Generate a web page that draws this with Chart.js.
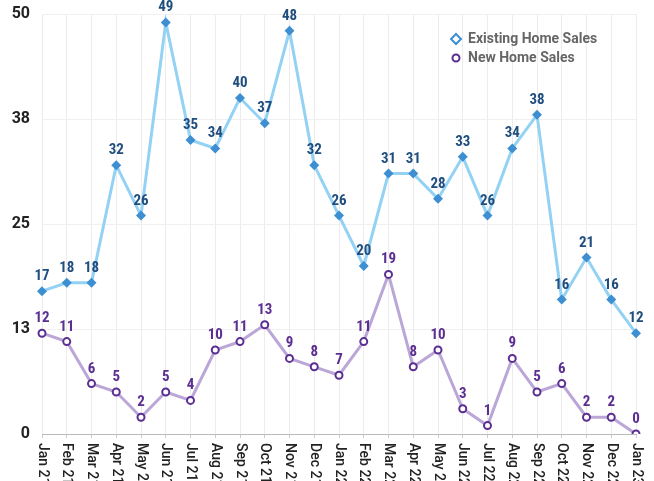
<!DOCTYPE html>
<html>
<head>
<meta charset="utf-8">
<script src="https://cdn.jsdelivr.net/npm/chart.js@4/dist/chart.umd.min.js"></script>
<style>
  html, body { margin: 0; padding: 0; background: #fff; }
  #wrap { width: 654px; height: 481px; }
</style>
</head>
<body>
<div id="wrap"><canvas id="chart" width="654" height="481"></canvas></div>
<script>
const months = ['Jan 21', 'Feb 21', 'Mar 21', 'Apr 21', 'May 21', 'Jun 21', 'Jul 21', 'Aug 21', 'Sep 21', 'Oct 21', 'Nov 21', 'Dec 21',
  'Jan 22', 'Feb 22', 'Mar 22', 'Apr 22', 'May 22', 'Jun 22', 'Jul 22', 'Aug 22', 'Sep 22', 'Oct 22', 'Nov 22', 'Dec 22', 'Jan 23']
const existingSales = [17, 18, 18, 32, 26, 49, 35, 34, 40, 37, 48, 32, 26, 20, 31, 31, 28, 33, 26, 34, 38, 16, 21, 16, 12]
const newSales = [12, 11, 6, 5, 2, 5, 4, 10, 11, 13, 9, 8, 7, 11, 19, 8, 10, 3, 1, 9, 5, 6, 2, 2, 0]
const yTicks = [0, 12.5, 25, 37.5, 50]

const labelFont = 'bold 15px "Liberation Sans Narrow", "Roboto Condensed", Roboto, sans-serif'

const existing = {
  label: 'Existing Home Sales',
  data: existingSales,
  borderColor: '#93d2f4',
  backgroundColor: '#3d8fd1',
  borderWidth: 3,
  pointStyle: 'rectRot',
  pointRadius: 5,
  pointBorderWidth: 0,
  pointBackgroundColor: '#3d8fd1',
  tension: 0,
  labelColor: '#1f4e7e'
}

const newHomes = {
  label: 'New Home Sales',
  data: newSales,
  borderColor: '#bba6d8',
  backgroundColor: '#fff',
  borderWidth: 3,
  pointStyle: 'circle',
  pointRadius: 3.5,
  pointBorderWidth: 2,
  pointBorderColor: '#5b2e91',
  pointBackgroundColor: '#fff',
  tension: 0,
  labelColor: '#5b2e91'
}

// value labels, rotated x labels and the legend
const decorations = {
  id: 'decorations',
  afterDatasetsDraw(chart) {
    const ctx = chart.ctx
    ctx.save()
    ctx.font = labelFont
    ctx.textAlign = 'center'
    ctx.textBaseline = 'alphabetic'
    chart.data.datasets.forEach((ds, i) => {
      const meta = chart.getDatasetMeta(i)
      ctx.fillStyle = ds.labelColor
      meta.data.forEach((pt, j) => {
        ctx.fillText(ds.data[j], pt.x, pt.y - 11)
      })
    })
    ctx.restore()
  },
  afterDraw(chart) {
    const ctx = chart.ctx
    const x = chart.scales.x
    ctx.save()
    ctx.font = '500 14px Roboto, sans-serif'
    ctx.fillStyle = '#222'
    ctx.textAlign = 'left'
    ctx.textBaseline = 'middle'
    months.forEach((m, i) => {
      const px = x.getPixelForTick(i)
      ctx.save()
      ctx.translate(px, x.top + 9)
      ctx.rotate(Math.PI / 2)
      ctx.fillText(m, 0, 0)
      ctx.restore()
    })

    // legend
    const lx = 456, ly = 39
    ctx.font = 'bold 14px Roboto, sans-serif'
    ctx.fillStyle = '#666'
    ctx.textBaseline = 'middle'
    ctx.fillText(existing.label, lx + 12, ly)
    ctx.fillText(newHomes.label, lx + 12, ly + 19)
    ctx.lineWidth = 2
    ctx.strokeStyle = '#3d8fd1'
    ctx.beginPath()
    ctx.moveTo(lx, ly - 5); ctx.lineTo(lx + 5, ly); ctx.lineTo(lx, ly + 5); ctx.lineTo(lx - 5, ly); ctx.closePath()
    ctx.stroke()
    ctx.strokeStyle = '#5b2e91'
    ctx.beginPath()
    ctx.arc(lx, ly + 19, 3.5, 0, Math.PI * 2)
    ctx.stroke()
    ctx.restore()
  }
}

const config = {
  type: 'line',
  data: {
    labels: months,
    datasets: [newHomes, existing]
  },
  options: {
    responsive: false,
    animation: false,
    layout: {
      padding: { top: 14, right: 18, left: 0, bottom: 0 }
    },
    plugins: {
      legend: { display: false },
      tooltip: { enabled: false }
    },
    scales: {
      x: {
        offset: false,
        grid: {
          color: '#ececec',
          tickLength: 4,
          tickColor: '#ccc'
        },
        border: { color: '#bbb', width: 1 },
        ticks: { display: false },
        afterFit: (scale) => { scale.height = 47; scale.paddingLeft = 0; scale.paddingRight = 0 }
      },
      y: {
        min: 0,
        max: 50,
        afterBuildTicks: (scale) => { scale.ticks = yTicks.map(v => ({ value: v })) },
        grid: { color: '#f0f0f0', drawTicks: false },
        border: { display: false },
        ticks: {
          color: '#222',
          padding: 12,
          font: { family: 'Roboto', weight: 'bold', size: 16 },
          callback: (v) => Math.round(v)
        },
        afterFit: (scale) => { scale.width = 42; scale.paddingTop = 0; scale.paddingBottom = 0 }
      }
    }
  },
  plugins: [decorations]
}

const chart = new Chart(document.getElementById('chart'), config)
</script>
</body>
</html>
